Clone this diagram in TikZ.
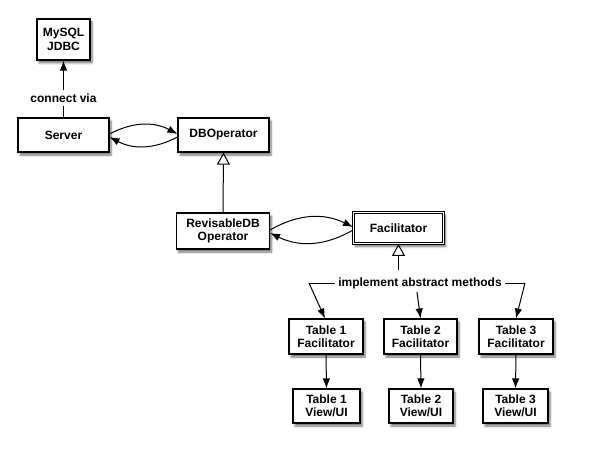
\documentclass[tikz,border=0pt]{standalone}
\usepackage{fontspec}
\setmainfont{Liberation Sans}
\usetikzlibrary{arrows.meta,shadows.blur,calc}
\begin{document}
\begin{tikzpicture}[x=1pt,y=-1pt,
  font=\fontsize{12}{13.5}\selectfont\bfseries,
  box/.style={draw=black,line width=1.1pt,fill=white,align=center,inner sep=0pt,
    minimum height=34pt,
    blur shadow={shadow xshift=2pt,shadow yshift=-3pt,shadow blur steps=6,shadow opacity=55}},
  arr/.style={line width=1pt,-{Latex[length=10pt,width=7.5pt]}},
  inh/.style={line width=1pt,-{Triangle[open,length=12pt,width=13pt,line width=1pt]}},
  ln/.style={line width=1pt}]
\useasboundingbox (0,0) rectangle (591,449);
\node[box,minimum width=53pt,minimum height=41pt] (mysql) at (63.5,39.5) {MySQL\\JDBC};
\node[box,minimum width=91pt] (server) at (63.5,135) {Server};
\node[box,minimum width=91pt] (dbop) at (223.5,135) {DBOperator};
\node[box,minimum width=93pt,minimum height=36pt] (rev) at (223,231) {RevisableDB\\Operator};
\node[box,minimum width=90pt,minimum height=31pt,double=white,double distance=1.6pt,line width=0.9pt] (fac) at (398.5,228) {Facilitator};
\node (via) at (63.5,98) {connect via};
\node (impl) at (420,283) {implement abstract methods};
\node[box,minimum width=74pt,minimum height=35pt] (t1f) at (326,336.5) {Table 1\\Facilitator};
\node[box,minimum width=73pt,minimum height=35pt] (t2f) at (420.5,336.5) {Table 2\\Facilitator};
\node[box,minimum width=74pt,minimum height=35pt] (t3f) at (516,336.5) {Table 3\\Facilitator};
\node[box,minimum width=67pt,minimum height=34pt] (t1v) at (326.5,406) {Table 1\\View/UI};
\node[box,minimum width=64pt,minimum height=34pt] (t2v) at (421,406) {Table 2\\View/UI};
\node[box,minimum width=65pt,minimum height=34pt] (t3v) at (515.5,406) {Table 3\\View/UI};
\coordinate (lc) at (309,283);
\coordinate (rc) at (525,283);
\coordinate (fs) at (398.5,270);
% connect via
\draw[ln] (server.north) -- (via.south);
\draw[arr] (via.north) -- (mysql.south);
% server <-> dbop
\draw[arr] ([yshift=1pt]server.east) to[bend left=28] ([yshift=1pt]dbop.west);
\draw[arr] ([yshift=-2pt]dbop.west) to[bend left=28] ([yshift=-2pt]server.east);
% inheritance
\draw[inh] (rev.north) -- (dbop.south);
\draw[inh] (fs) -- (fac.south);
% rev <-> fac
\draw[arr] ([yshift=1pt]rev.east) to[bend left=28] ([yshift=1pt]fac.west);
\draw[arr] ([yshift=-2pt]fac.west) to[bend left=28] ([yshift=-2pt]rev.east);
% implement
\draw[ln] (impl.west) -- (lc);
\draw[arr] (lc) -- ([xshift=-1pt]t1f.north);
\draw[ln] (impl.east) -- (rc);
\draw[arr] (rc) -- (t3f.north);
\draw[arr] ([xshift=-3pt]impl.south) -- (t2f.north);
% facilitators to views
\draw[arr] (t1f.south) -- (t1v.north);
\draw[arr] (t2f.south) -- (t2v.north);
\draw[arr] (t3f.south) -- (t3v.north);
\end{tikzpicture}
\end{document}
